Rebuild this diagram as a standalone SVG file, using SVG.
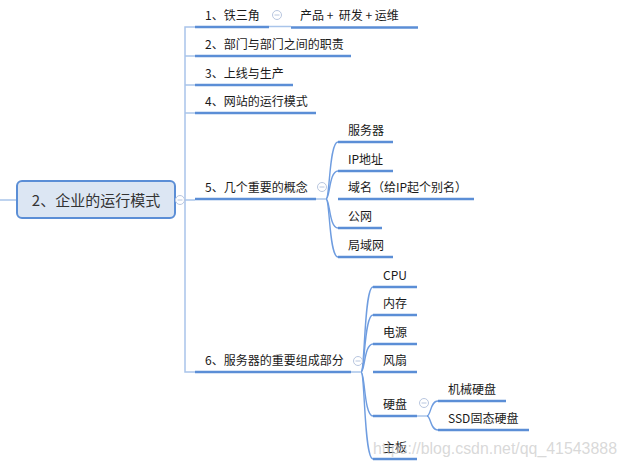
<svg xmlns="http://www.w3.org/2000/svg" width="626" height="466" viewBox="0 0 626 466">
<style>
  .t{font-family:"Noto Sans CJK SC","Microsoft YaHei","DejaVu Sans",sans-serif;font-size:12px;fill:#1a1a1a;white-space:pre}
  .root{font-family:"Noto Sans CJK SC","Microsoft YaHei","DejaVu Sans",sans-serif;font-size:15px;fill:#333}
  .ul{stroke:#5b8ed6;stroke-width:2.6;fill:none}
  .lt{stroke:#a9c4ea;stroke-width:1.5;fill:none}
  .cv{stroke:#6f9de0;stroke-width:1.4;fill:none}
  .col circle{fill:#fff;stroke:#b8c6df;stroke-width:1}
  .col line{stroke:#b8c6df;stroke-width:1}
</style>
<rect width="626" height="466" fill="#fff"/>
<g id="connectors">
  <line class="lt" x1="0" y1="200" x2="17" y2="200"/>
  <line class="lt" x1="175" y1="200" x2="195" y2="200"/>
  <path class="lt" d="M195,27 H185 V372 H195"/>
  <line class="lt" x1="185" y1="56" x2="195" y2="56"/>
  <line class="lt" x1="185" y1="85" x2="195" y2="85"/>
  <line class="lt" x1="185" y1="113" x2="195" y2="113"/>
  <line class="lt" x1="269" y1="26.5" x2="291" y2="26.5"/>
  <line class="lt" x1="316" y1="199" x2="327" y2="199"/>
  <path class="cv" d="M326,199 C330,199 329,142 338,142"/>
  <path class="cv" d="M326,199 C330,199 329,171 338,171"/>
  <path class="cv" d="M326,199 C330,199 329,228 338,228"/>
  <path class="cv" d="M326,199 C330,199 329,257 338,257"/>
  <line class="lt" x1="351" y1="372" x2="362" y2="372"/>
  <path class="cv" d="M361,372 C365,372 364,287 373,287"/>
  <path class="cv" d="M361,372 C365,372 364,315 373,315"/>
  <path class="cv" d="M361,372 C365,372 364,344 373,344"/>
  <path class="cv" d="M361,372 C365,372 364,416 373,416"/>
  <path class="cv" d="M361,372 C365,372 364,459 373,459"/>
  <line class="lt" x1="417" y1="416" x2="428" y2="416"/>
  <path class="cv" d="M427,416 C431,416 430,401 438,401"/>
  <path class="cv" d="M427,416 C431,416 430,430 438,430"/>
</g>
<g id="root">
  <rect x="17" y="181" width="158" height="37" rx="5" fill="#dce6f3" stroke="#5b8ed6" stroke-width="2"/>
  <text class="root" x="96" y="206" text-anchor="middle">2、企业的运行模式</text>
</g>
<g class="col" id="collapse-markers">
  <circle cx="180" cy="200" r="4.5"/><line x1="177.5" y1="200" x2="182.5" y2="200"/>
  <circle cx="277" cy="15" r="4.5"/><line x1="274.5" y1="15" x2="279.5" y2="15"/>
  <circle cx="322" cy="187" r="4.5"/><line x1="319.5" y1="187" x2="324.5" y2="187"/>
  <circle cx="358" cy="361" r="4.5"/><line x1="355.5" y1="361" x2="360.5" y2="361"/>
  <circle cx="424" cy="403" r="4.5"/><line x1="421.5" y1="403" x2="426.5" y2="403"/>
</g>
<g id="n1"><line class="ul" x1="195" y1="27" x2="269" y2="27"/><text class="t" x="205" y="20">1、铁三角</text></g>
<g id="n1a"><line class="ul" x1="291" y1="27.5" x2="418" y2="27.5"/><text class="t" x="300" y="20">产品 +  研发 + 运维</text></g>
<g id="n2"><line class="ul" x1="195" y1="56" x2="351" y2="56"/><text class="t" x="205" y="49">2、部门与部门之间的职责</text></g>
<g id="n3"><line class="ul" x1="195" y1="85" x2="293" y2="85"/><text class="t" x="205" y="78">3、上线与生产</text></g>
<g id="n4"><line class="ul" x1="195" y1="113" x2="316" y2="113"/><text class="t" x="205" y="106">4、网站的运行模式</text></g>
<g id="n5"><line class="ul" x1="195" y1="199" x2="316" y2="199"/><text class="t" x="205" y="192">5、几个重要的概念</text></g>
<g id="n5a"><line class="ul" x1="338" y1="142" x2="393" y2="142"/><text class="t" x="348" y="135">服务器</text></g>
<g id="n5b"><line class="ul" x1="338" y1="171" x2="393" y2="171"/><text class="t" x="348" y="164">IP地址</text></g>
<g id="n5c"><line class="ul" x1="338" y1="199" x2="474" y2="199"/><text class="t" x="348" y="192">域名（给IP起个别名）</text></g>
<g id="n5d"><line class="ul" x1="338" y1="228" x2="382" y2="228"/><text class="t" x="348" y="221">公网</text></g>
<g id="n5e"><line class="ul" x1="338" y1="257" x2="393" y2="257"/><text class="t" x="348" y="250">局域网</text></g>
<g id="n6"><line class="ul" x1="195" y1="372" x2="351" y2="372"/><text class="t" x="205" y="365">6、服务器的重要组成部分</text></g>
<g id="n6a"><line class="ul" x1="373" y1="287" x2="417" y2="287"/><text class="t" x="383" y="280">CPU</text></g>
<g id="n6b"><line class="ul" x1="373" y1="315" x2="417" y2="315"/><text class="t" x="383" y="308">内存</text></g>
<g id="n6c"><line class="ul" x1="373" y1="344" x2="417" y2="344"/><text class="t" x="383" y="337">电源</text></g>
<g id="n6d"><line class="ul" x1="373" y1="372" x2="417" y2="372"/><text class="t" x="383" y="365">风扇</text></g>
<g id="n6e"><line class="ul" x1="373" y1="416" x2="417" y2="416"/><text class="t" x="383" y="409">硬盘</text></g>
<g id="n6e1"><line class="ul" x1="438" y1="401" x2="506" y2="401"/><text class="t" x="448" y="394">机械硬盘</text></g>
<g id="n6e2"><line class="ul" x1="438" y1="430" x2="529" y2="430"/><text class="t" x="448" y="423">SSD固态硬盘</text></g>
<g id="n6f"><line class="ul" x1="373" y1="459" x2="417" y2="459"/><text class="t" x="383" y="452">主板</text></g>
<text x="373" y="454" font-family="Liberation Sans, Arial, sans-serif" font-size="17" fill="#c8c8c8" fill-opacity="0.7" textLength="244" lengthAdjust="spacingAndGlyphs">https://blog.csdn.net/qq_41543888</text>
</svg>
